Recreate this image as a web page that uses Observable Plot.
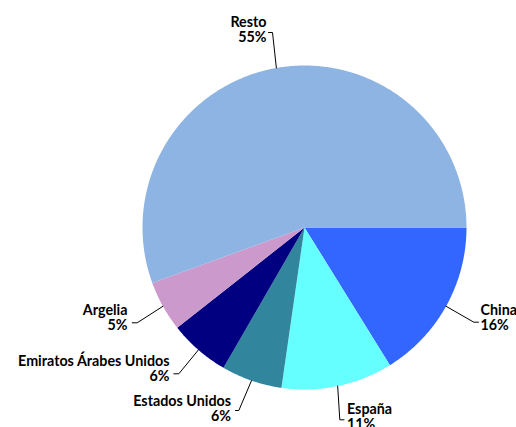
<!DOCTYPE html>
<html><head><meta charset="utf-8">
<script src="https://cdn.jsdelivr.net/npm/d3@7"></script>
<script src="https://cdn.jsdelivr.net/npm/@observablehq/plot@0.6"></script>
<style>body{margin:0;background:#fff} svg{display:block}</style>
</head><body><div id="chart"></div>
<script>
// ---- data ----
const countries = ["China", "España", "Estados Unidos", "Emiratos Árabes Unidos", "Argelia", "Resto"];
const shares = [16, 11, 6, 6, 5, 55];
const pctLabels = ["16%", "11%", "6%", "6%", "5%", "55%"];
const colors = ["#3366FF", "#66FFFF", "#31859C", "#000080", "#CC99CC", "#8EB4E3"];

// ---- layout (pixel space) ----
const W = 516, H = 427, cx = 304, cy = 227, R = 162;
const labelLayout = [
  {tx: 480, ty: 314, anchor: "start", ex: 473.3, ey: 321.7, kx: 478},
  {tx: 346.5, ty: 413, anchor: "start", ex: 339.3, ey: 419.3, kx: 343.5},
  {tx: 230.5, ty: 405, anchor: "end", ex: 238.3, ey: 410, kx: 235},
  {tx: 169, ty: 365.5, anchor: "end", ex: 178.3, ey: 373.3, kx: 173.3},
  {tx: 127, ty: 314.5, anchor: "end", ex: 136.7, ey: 322.3, kx: 131.7},
  {tx: 266, ty: 26.7, anchor: "end", ex: 272, ey: 32, kx: 268}
];
const lineGap = 15;

const total = d3.sum(shares);
let acc = 0;
const slices = countries.map((name, i) => {
  const a0 = acc / total * 2 * Math.PI;
  acc += shares[i];
  const a1 = acc / total * 2 * Math.PI;
  return {name, a0, a1, mid: (a0 + a1) / 2, pct: pctLabels[i], ...labelLayout[i]};
});

const polyPts = [];
for (const s of slices) {
  polyPts.push({name: s.name, x: cx, y: cy});
  const n = Math.max(2, Math.ceil((s.a1 - s.a0) / (Math.PI / 360)));
  for (let k = 0; k <= n; k++) {
    const a = s.a0 + (s.a1 - s.a0) * k / n;
    polyPts.push({name: s.name, x: cx + R * Math.cos(a), y: cy + R * Math.sin(a)});
  }
  polyPts.push({name: s.name, x: cx, y: cy});
}

const leaderPts = [];
for (const s of slices) {
  leaderPts.push({name: s.name, x: cx + R * Math.cos(s.mid), y: cy + R * Math.sin(s.mid)});
  leaderPts.push({name: s.name, x: s.ex, y: s.ey});
  leaderPts.push({name: s.name, x: s.kx, y: s.ey});
}

const font = {fontFamily: "Lato", fontWeight: "bold", fontSize: 14.3, fill: "black", lineAnchor: "bottom"};
const textMarks = [];
for (const anchor of ["start", "end"]) {
  const sub = slices.filter(s => s.anchor === anchor);
  textMarks.push(Plot.text(sub, {x: "tx", y: "ty", text: "name", textAnchor: anchor, ...font}));
  textMarks.push(Plot.text(sub, {x: "tx", y: d => d.ty + lineGap, text: "pct", textAnchor: anchor, ...font}));
}

const chart = Plot.plot({
  width: W, height: H, margin: 0,
  x: {domain: [0, W], range: [0, W], axis: null},
  y: {domain: [0, H], range: [0, H], axis: null},
  color: {domain: countries, range: colors},
  style: {background: "white"},
  marks: [
    Plot.line(polyPts, {x: "x", y: "y", z: "name", fill: "name", stroke: "none", curve: "linear"}),
    Plot.line(leaderPts, {x: "x", y: "y", z: "name", stroke: "black", strokeWidth: 1}),
    ...textMarks
  ]
});
document.getElementById("chart").appendChild(chart);
</script>
</body></html>
